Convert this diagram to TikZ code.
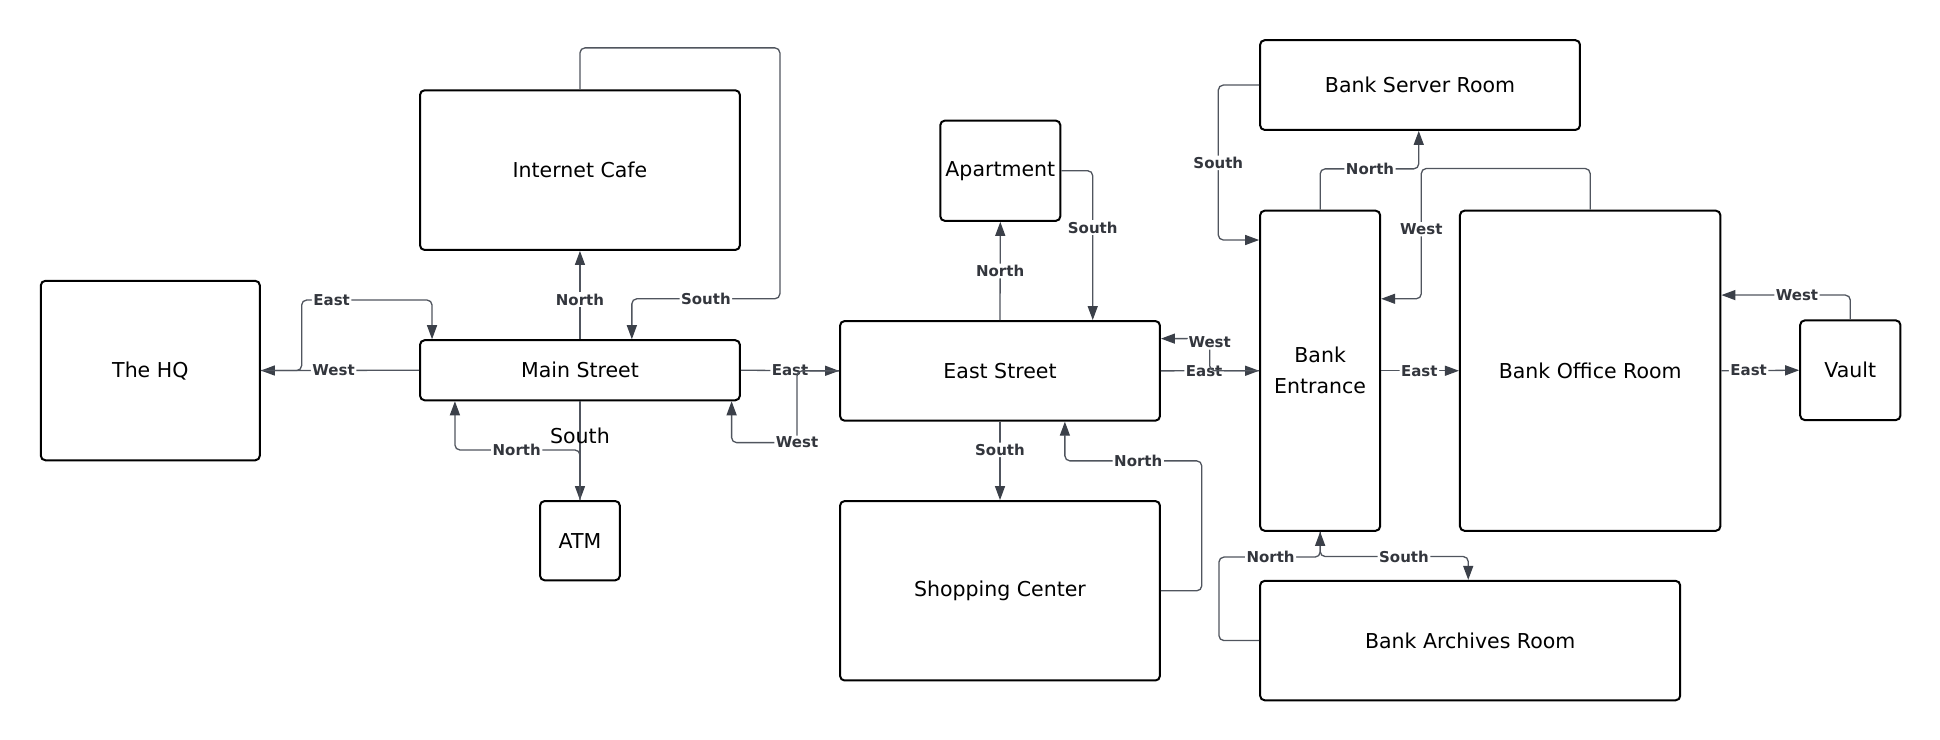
\documentclass[tikz,border=0pt]{standalone}
\usepackage{fontspec}
\setmainfont{DejaVu Sans}
\usetikzlibrary{arrows.meta,calc}
\definecolor{linec}{HTML}{50555E}
\definecolor{tipc}{HTML}{3B4049}
\definecolor{lblc}{HTML}{33363D}
\tikzset{
 room/.style={draw=black, line width=2pt, rounded corners=4.5pt, fill=white, font=\fontsize{20.5}{31}\selectfont, align=center, inner sep=0pt},
 conn/.style={draw=linec, line width=1.3pt, rounded corners=5pt, -{Triangle[length=14pt,width=10pt,color=tipc]}},
 lbl/.style={fill=white, text=lblc, font=\bfseries\fontsize{15}{18}\selectfont, inner sep=1.5pt},
 plainlbl/.style={text=black, font=\fontsize{20.5}{24}\selectfont, inner sep=0pt},
}
\newcommand\mkroom[6]{\node[room, minimum width={(#4-#2)*1.237pt}, minimum height={(#5-#3)*1.237pt}] (#1) at ({(#2+#4)/2},{(#3+#5)/2}) {#6};}
\begin{document}
\begin{tikzpicture}[x=1.237pt,y=-1.237pt]
\useasboundingbox (0,0) rectangle (1568,598);
% rooms
\mkroom{hq}{33}{227}{210}{372}{The HQ}
\mkroom{main}{339.5}{275}{598}{323.5}{Main Street}
\mkroom{cafe}{339.5}{73}{598}{202}{Internet Cafe}
\mkroom{atm}{436.5}{405}{501}{469}{ATM}
\mkroom{east}{679}{259.5}{937.5}{340}{East Street}
\mkroom{apt}{760}{97.5}{857}{178.5}{Apartment}
\mkroom{shop}{679}{405}{937.5}{550}{Shopping Center}
\mkroom{bent}{1018.5}{170.3}{1115.5}{429}{Bank\\Entrance}
\mkroom{server}{1018.5}{32.5}{1277}{105}{Bank Server Room}
\mkroom{office}{1180}{170.3}{1390.5}{429}{Bank Office Room}
\mkroom{vault}{1455}{259}{1536}{339.5}{Vault}
\mkroom{arch}{1018.5}{469.5}{1358}{566}{Bank Archives Room}
% connectors
\draw[conn] (main.west) -- node[lbl,pos=0.54]{West} (hq.east);
\draw[conn] (hq.east) -- ++(33,0) -- ++(0,-57) -| node[lbl,pos=0.115]{East} ($(main.north west)+(10.5,0)$);
\draw[conn] (main.north) -- node[lbl,pos=0.45]{North} (cafe.south);
\draw[conn] (cafe.north) -- ++(0,-33.5) -- ++(161.6,0) -- ++(0,202.8) -| node[lbl,pos=0.25]{South} ($(main.north west)+(172,0)$);
\draw[conn] (main.south) -- node[plainlbl,pos=0.35]{South} (atm.north);
\draw[conn] (atm.north) -- ++(0,-40.5) -| node[lbl,pos=0.253]{North} ($(main.south west)+(29,0)$);
\draw[conn] (main.east) -- node[lbl,pos=0.5]{East} (east.west);
\draw[conn] (east.west) -- ++(-34,0) -- ++(0,58) node[lbl]{West} -| ($(main.south east)+(-7.5,0)$);
\draw[conn] (east.north) -- node[lbl,pos=0.5]{North} (apt.south);
\draw[conn] (apt.east) -| node[lbl,pos=0.69]{South} ($(east.north west)+(205,0)$);
\draw[conn] (east.south) -- node[lbl,pos=0.36]{South} (shop.north);
\draw[conn] (shop.east) -- ++(33,0) -- ++(0,-105) -| node[lbl,pos=0.232]{North} ($(east.south west)+(182.5,0)$);
\draw[conn] (east.east) -- node[lbl,pos=0.44]{East} (bent.west);
\draw[conn] (bent.west) -- ++(-40,0) |- node[lbl,pos=0.44]{West} ($(east.north east)+(0,15)$);
\draw[conn] (bent.north) -- ++(0,-33) -| node[lbl,pos=0.253]{North} ($(server.south west)+(129,0)$);
\draw[conn] (server.west) -- ++(-33,0) |- node[lbl,pos=0.251]{South} ($(bent.north west)+(0,24.5)$);
\draw[conn] (office.north) -- ++(0,-33.3) -- ++(-136.5,0) |- node[lbl,pos=0.233]{West} ($(bent.north east)+(0,72)$);
\draw[conn] (bent.east) -- node[lbl,pos=0.49]{East} (office.west);
\draw[conn] (office.east) -- node[lbl,pos=0.35]{East} (vault.west);
\draw[conn] (vault.north) |- node[lbl,pos=0.707]{West} ($(office.north east)+(0,69)$);
\draw[conn] (bent.south) -- ++(0,20) -| node[lbl,pos=0.283]{South} ($(arch.north west)+(169,0)$);
\draw[conn] (arch.west) -- ++(-32.5,0) -- ++(0,-67.5) -| node[lbl,pos=0.255]{North} (bent.south);
\end{tikzpicture}
\end{document}
